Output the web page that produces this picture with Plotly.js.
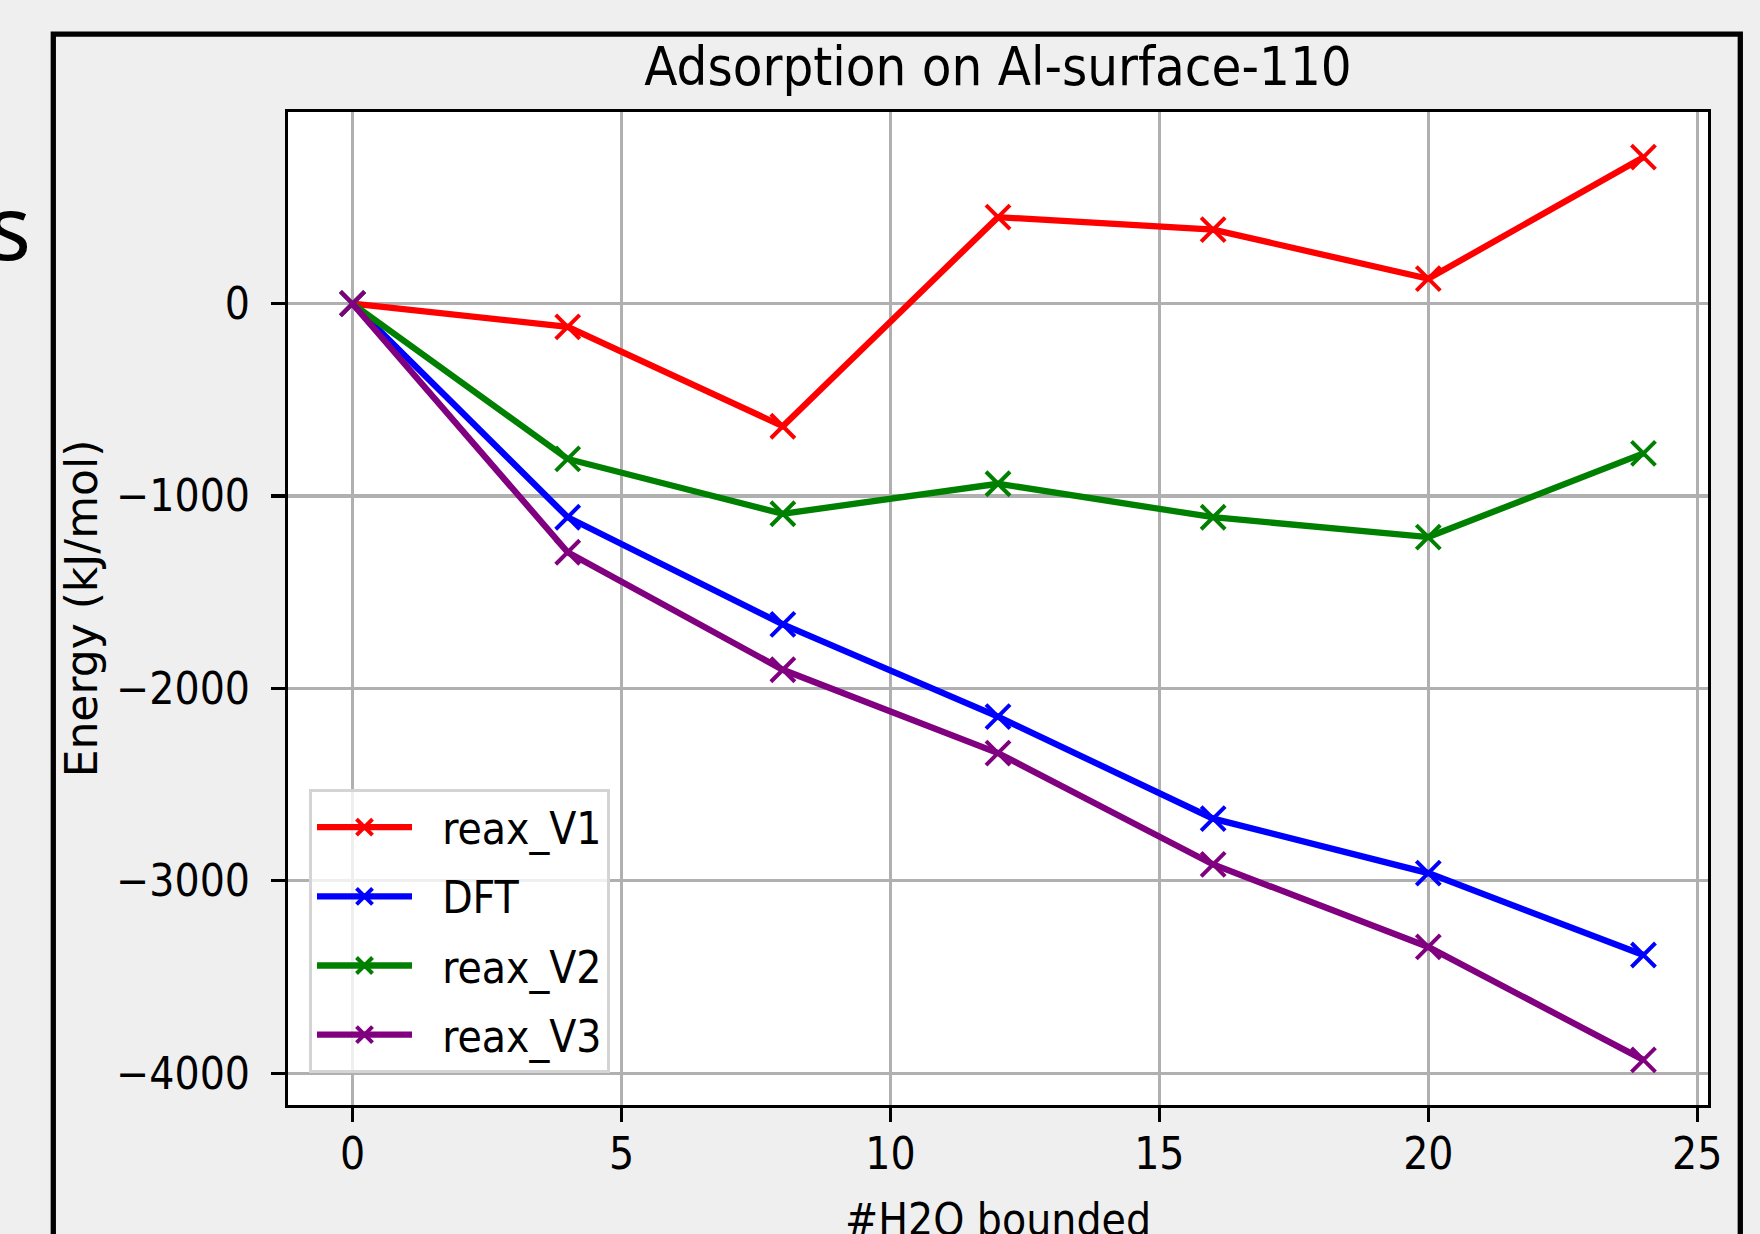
<!DOCTYPE html>
<html>
<head>
<meta charset="utf-8">
<script src="https://cdn.plot.ly/plotly-3.0.1.min.js"></script>
<style>
  html, body { margin: 0; padding: 0; background: #efefef; }
  #chart { width: 1760px; height: 1234px; }
</style>
</head>
<body>
<div id="chart"></div>
<script>
// ---- data ----
const xWater = [0, 4, 8, 12, 16, 20, 24];
const reaxV1 = [0, -120, -637, 450, 385, 130, 762];
const dft    = [0, -1110, -1667, -2147, -2677, -2960, -3386];
const reaxV2 = [0, -807, -1092, -936, -1110, -1213, -778];
const reaxV3 = [0, -1292, -1903, -2336, -2915, -3344, -3931];

const seriesNames  = ['reax_V1', 'DFT', 'reax_V2', 'reax_V3'];
const seriesColors = ['red', 'blue', 'green', 'purple'];

const xTickVals = [0, 5, 10, 15, 20, 25];
const xTickText = ['0', '5', '10', '15', '20', '25'];
const yTickVals = [-4000, -3000, -2000, -1000, 0];
const yTickText = ['\u22124000', '\u22123000', '\u22122000', '\u22121000', '0'];

const titleText = 'Adsorption on Al-surface-110';
const xTitleText = '#H2O bounded';
const yTitleText = 'Energy (kJ/mol)';

// ---- chart ----
const FONT = "'DejaVu Sans Condensed', 'DejaVu Sans', sans-serif";
const FONT_WIDE = "'DejaVu Sans', sans-serif";
const seriesValues = [reaxV1, dft, reaxV2, reaxV3];
const NBSP2 = '\u00A0\u00A0';

const traces = seriesValues.map((vals, i) => ({
  x: xWater,
  y: vals,
  name: NBSP2 + seriesNames[i],
  legendgroup: seriesNames[i],
  type: 'scatter',
  mode: 'lines+markers',
  line: { color: seriesColors[i], width: 6.3 },
  marker: { symbol: 'x-thin', size: 24, color: seriesColors[i],
            line: { color: seriesColors[i], width: 4 } }
}));

// matplotlib-like 5% margins
function padRange(arr) {
  const lo = Math.min(...arr), hi = Math.max(...arr);
  const p = (hi - lo) * 0.05;
  return [lo - p, hi + p];
}
const xRange = padRange(xWater);
const yRange = padRange([].concat(...seriesValues));

const W = 1760, H = 1234;
const M = { l: 288, r: 52, t: 112, b: 129 };
const pw = W - M.l - M.r, ph = H - M.t - M.b;
const px = v => (v - M.l) / pw;
const py = v => (H - M.b - v) / ph;

const axisCommon = {
  showline: true, mirror: true, linecolor: 'black', linewidth: 3.2,
  showgrid: true, gridcolor: '#b0b0b0', gridwidth: 3.2,
  zeroline: false,
  ticks: 'outside', ticklen: 14, tickwidth: 3.2, tickcolor: 'black',
  tickfont: { family: FONT, size: 44, color: 'black' },
  automargin: false
};

const layout = {
  width: W, height: H,
  paper_bgcolor: '#efefef',
  plot_bgcolor: 'white',
  margin: { l: M.l, r: M.r, t: M.t, b: M.b, pad: 0 },
  font: { family: FONT, color: 'black' },
  title: {
    text: titleText,
    font: { family: FONT, size: 54, color: 'black' },
    xref: 'paper', x: 0.5, xanchor: 'center',
    yref: 'container', y: 1 - 66.5 / H, yanchor: 'middle'
  },
  xaxis: Object.assign({}, axisCommon, {
    range: xRange,
    tickmode: 'array', tickvals: xTickVals, ticktext: xTickText,
    ticklabelstandoff: -6
  }),
  yaxis: Object.assign({}, axisCommon, {
    range: yRange,
    tickmode: 'array', tickvals: yTickVals, ticktext: yTickText,
    ticklabelstandoff: 12,
    title: { text: yTitleText, font: { family: FONT_WIDE, size: 44, color: 'black' }, standoff: 5 }
  }),
  showlegend: true,
  legend: {
    x: px(309), y: py(1073), xanchor: 'left', yanchor: 'bottom',
    bgcolor: 'rgba(255,255,255,0.8)', bordercolor: '#d4d4d4', borderwidth: 3,
    font: { family: FONT, size: 44, color: 'black' },
    itemwidth: 95, tracegroupgap: 9, traceorder: 'grouped'
  },
  shapes: [{
    type: 'rect', xref: 'paper', yref: 'paper',
    x0: px(53.3), x1: px(1740.3), y0: py(1270), y1: py(34.2),
    line: { color: 'black', width: 5.3 }, fillcolor: 'rgba(0,0,0,0)', layer: 'above'
  }],
  annotations: [{
    // x-axis title, placed like matplotlib (partly below the visible edge)
    text: xTitleText, showarrow: false,
    xref: 'paper', yref: 'paper',
    x: 0.5, xanchor: 'center',
    y: py(1219.8), yanchor: 'middle',
    font: { family: FONT, size: 44, color: 'black' }
  }, {
    text: 's', showarrow: false,
    xref: 'paper', yref: 'paper',
    x: px(33), xanchor: 'right',
    y: py(225), yanchor: 'middle',
    font: { family: "'Noto Sans', 'DejaVu Sans', sans-serif", size: 90, color: 'black' }
  }]
};

Plotly.newPlot('chart', traces, layout, { displayModeBar: false, staticPlot: true });
</script>
</body>
</html>
